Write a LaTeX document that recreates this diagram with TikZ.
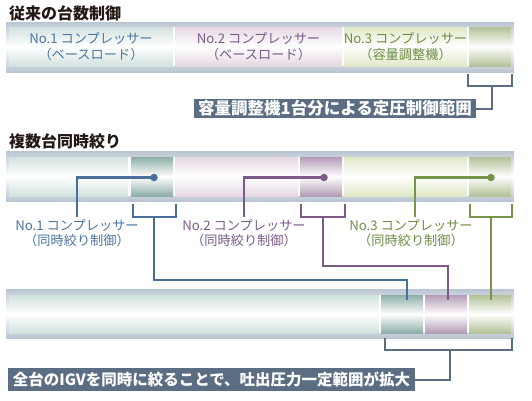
\documentclass[tikz,border=0pt]{standalone}
\usepackage{fontspec}
\setmainfont{Noto Sans CJK JP}
\definecolor{tealL}{HTML}{D2E2DF}
\definecolor{tealD}{HTML}{8DAEA8}
\definecolor{purL}{HTML}{E5D8E2}
\definecolor{purD}{HTML}{B39CB5}
\definecolor{grnL}{HTML}{E0E8C8}
\definecolor{grnD}{HTML}{B2C197}
\definecolor{frameC}{HTML}{BAC5D2}
\definecolor{slate}{HTML}{5A6D82}
\definecolor{lnTeal}{HTML}{4A6F98}
\definecolor{lnPur}{HTML}{7E5A88}
\definecolor{lnGrn}{HTML}{76944A}
\definecolor{txTeal}{HTML}{4C74A0}
\definecolor{txPur}{HTML}{7A5A8C}
\definecolor{txGrn}{HTML}{6E8C44}
\definecolor{titleC}{HTML}{231815}
\begin{document}
\begin{tikzpicture}[x=1pt,y=-1pt,
  seg/.style={rectangle, inner sep=0pt, outer sep=0pt, anchor=north west, draw=none,
    top color=#1, bottom color=#1, middle color=white},
  framebox/.style={rectangle, inner sep=0pt, outer sep=0pt, anchor=north west, draw=none,
    top color=frameC, bottom color=frameC, middle color=white, minimum width=508pt},
  whitebox/.style={rectangle, inner sep=0pt, outer sep=0pt, anchor=north west, fill=white, minimum width=502pt},
  title/.style={anchor=west, inner sep=0pt, font=\fontsize{16}{18}\selectfont\bfseries, text=titleC},
  lab/.style={align=center, inner sep=0pt, font=\fontsize{13.2}{15.5}\selectfont, text=#1},
  labbox/.style={rectangle, fill=slate, inner sep=0pt, text=white, font=\fontsize{#1}{18}\selectfont\bfseries},
  bracket/.style={draw=#1, line width=2pt},
  conn/.style={draw=#1, line width=2.5pt},
  dot/.style={circle, fill=#1, inner sep=0pt, minimum size=7.5pt},
]
\useasboundingbox (0,0) rectangle (532,400);

% ---------------- Row 1 ----------------
\node[title] (t1) at (9,13) {従来の台数制御};
\node[framebox, minimum height=50pt] (f1) at (6,22) {};
\node[whitebox, minimum height=39pt] (w1) at (9,27) {};
\node[seg=tealL, minimum width=164pt, minimum height=39pt] (a1) at (9,27) {};
\node[seg=purL, minimum width=167pt, minimum height=39pt] (a2) at (175,27) {};
\node[seg=grnL, minimum width=123pt, minimum height=39pt] (a3) at (344,27) {};
\node[seg=grnD, minimum width=42pt, minimum height=39pt] (a4) at (469,27) {};
\node[lab=txTeal] (la1) at (a1.center) {No.1 コンプレッサー\\（ベースロード）};
\node[lab=txPur] (la2) at (a2.center) {No.2 コンプレッサー\\（ベースロード）};
\node[lab=txGrn] (la3) at (a3.center) {No.3 コンプレッサー\\（容量調整機）};

\node[labbox=16.5, minimum width=282pt, minimum height=19pt] (box1) at (335,108.5) {容量調整機1台分による定圧制御範囲};
\coordinate (b1l) at (468,74);
\coordinate (b1r) at (512,74);
\coordinate (b1m) at (492,86);
\draw[bracket=slate] (b1l) |- (b1r |- b1m) -- (b1r);
\draw[bracket=slate] (b1m) |- (box1.east);

% ---------------- Row 2 ----------------
\node[title] (t2) at (9,141.5) {複数台同時絞り};
\node[framebox, minimum height=50pt] (f2) at (6,151) {};
\node[whitebox, minimum height=39pt] (w2) at (9,157) {};
\node[seg=tealL, minimum width=119pt, minimum height=39pt] (s1) at (9,157) {};
\node[seg=tealD, minimum width=42pt, minimum height=39pt] (s2) at (131,157) {};
\node[seg=purL, minimum width=123pt, minimum height=39pt] (s3) at (175,157) {};
\node[seg=purD, minimum width=42pt, minimum height=39pt] (s4) at (300,157) {};
\node[seg=grnL, minimum width=123pt, minimum height=39pt] (s5) at (344,157) {};
\node[seg=grnD, minimum width=42pt, minimum height=39pt] (s6) at (469,157) {};

\node[dot=lnTeal] (d1) at (154,177.5) {};
\node[dot=lnPur] (d2) at (324,177.5) {};
\node[dot=lnGrn] (d3) at (491,177.5) {};

\node[lab=txTeal, anchor=north] (lb1) at (77,219) {No.1 コンプレッサー\\（同時絞り制御）};
\node[lab=txPur, anchor=north] (lb2) at (244,219) {No.2 コンプレッサー\\（同時絞り制御）};
\node[lab=txGrn, anchor=north] (lb3) at (411,219) {No.3 コンプレッサー\\（同時絞り制御）};

\coordinate (e1) at (77,217);
\coordinate (e2) at (244,217);
\coordinate (e3) at (415,217);
\draw[conn=lnTeal] (d1.center) -| (e1);
\draw[conn=lnPur] (d2.center) -| (e2);
\draw[conn=lnGrn] (d3.center) -| (e3);

% brackets row 2
\coordinate (k1l) at (133,204); \coordinate (k1r) at (176,204); \coordinate (k1m) at (154,217);
\coordinate (k2l) at (301,204); \coordinate (k2r) at (345,204); \coordinate (k2m) at (323,217);
\coordinate (k3l) at (470,204); \coordinate (k3r) at (512,204); \coordinate (k3m) at (491,217);
\draw[bracket=lnTeal] (k1l) |- (k1r |- k1m) -- (k1r);
\draw[bracket=lnPur] (k2l) |- (k2r |- k2m) -- (k2r);
\draw[bracket=lnGrn] (k3l) |- (k3r |- k3m) -- (k3r);

% ---------------- Row 3 ----------------
\node[framebox, minimum height=49pt] (f3) at (6,289) {};
\node[whitebox, minimum height=38pt] (w3) at (9,295) {};
\node[seg=tealL, minimum width=370pt, minimum height=38pt] (r1) at (9,295) {};
\node[seg=tealD, minimum width=42pt, minimum height=38pt] (r2) at (381,295) {};
\node[seg=purD, minimum width=42pt, minimum height=38pt] (r3) at (425,295) {};
\node[seg=grnD, minimum width=42pt, minimum height=38pt] (r4) at (469,295) {};

\coordinate (h1) at (407,280); \coordinate (g1) at (407,300);
\coordinate (h2) at (448,266); \coordinate (g2) at (448,300);
\coordinate (g3) at (491,300);
\draw[conn=lnTeal] (k1m) |- (h1) -- (g1);
\draw[conn=lnPur] (k2m) |- (h2) -- (g2);
\draw[conn=lnGrn] (k3m) -- (g3);

\node[labbox=15.5, minimum width=407pt, minimum height=23pt] (box2) at (211.5,379.5) {全台のIGVを同時に絞ることで、吐出圧力一定範囲が拡大};
\coordinate (c3l) at (385,338);
\coordinate (c3r) at (512,338);
\coordinate (c3m) at (450,350);
\draw[bracket=slate] (c3l) |- (c3r |- c3m) -- (c3r);
\draw[bracket=slate] (c3m) |- (box2.east);
\end{tikzpicture}
\end{document}
